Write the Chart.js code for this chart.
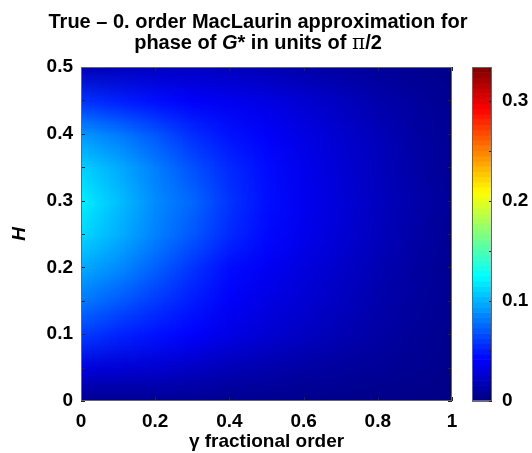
<!DOCTYPE html>
<html>
<head>
<meta charset="utf-8">
<script src="https://cdn.jsdelivr.net/npm/chart.js@4.4.1/dist/chart.umd.min.js"></script>
<style>
  html, body { margin: 0; padding: 0; background: #fff; }
  #wrap { position: relative; width: 532px; height: 453px; }
  #wrap canvas { position: absolute; left: 0; top: 0; }
  #title {
    position: absolute; left: 0; top: 11px; width: 516px;
    text-align: center; font: bold 20px "Liberation Sans", Arial, sans-serif;
    line-height: 21px; color: #000;
  }
  .sym { font-family: "DejaVu Serif", serif; font-weight: normal; }
</style>
</head>
<body>
<div id="wrap">
  <canvas id="heat" width="532" height="453"></canvas>
  <canvas id="cbar" width="532" height="453"></canvas>
  <div id="title">True – 0. order MacLaurin approximation for<br>phase of <i>G</i>* in units of <span class="sym">π</span>/2</div>
</div>
<script>
// grid of the map: gamma across, H up
const gammaVals = [0, 0.1, 0.2, 0.3, 0.4, 0.5, 0.6, 0.7, 0.8, 0.9, 1];
const hVals = [0, 0.05, 0.1, 0.15, 0.2, 0.25, 0.3, 0.35, 0.4, 0.45, 0.5];
// phase difference, one row per H (bottom row first)
const phaseErr = [
  [0.004, 0.005, 0.006, 0.006, 0.005, 0.005, 0.004, 0.004, 0.003, 0.003, 0.002],
  [0.030, 0.028, 0.026, 0.022, 0.018, 0.015, 0.012, 0.010, 0.008, 0.006, 0.004],
  [0.061, 0.053, 0.047, 0.041, 0.033, 0.027, 0.022, 0.017, 0.012, 0.008, 0.005],
  [0.081, 0.071, 0.060, 0.050, 0.040, 0.033, 0.027, 0.021, 0.015, 0.010, 0.006],
  [0.097, 0.087, 0.073, 0.058, 0.045, 0.038, 0.031, 0.024, 0.017, 0.011, 0.006],
  [0.112, 0.099, 0.084, 0.070, 0.055, 0.044, 0.036, 0.028, 0.020, 0.013, 0.007],
  [0.120, 0.104, 0.087, 0.075, 0.058, 0.046, 0.037, 0.029, 0.021, 0.014, 0.008],
  [0.110, 0.098, 0.083, 0.068, 0.055, 0.045, 0.036, 0.028, 0.020, 0.013, 0.007],
  [0.091, 0.082, 0.070, 0.056, 0.047, 0.040, 0.033, 0.026, 0.019, 0.012, 0.007],
  [0.058, 0.052, 0.046, 0.040, 0.037, 0.033, 0.027, 0.021, 0.015, 0.010, 0.006],
  [0.017, 0.020, 0.022, 0.022, 0.020, 0.017, 0.014, 0.011, 0.008, 0.006, 0.004]
];
const xTicks = [0, 0.2, 0.4, 0.6, 0.8, 1];
const yTicks = [0, 0.05, 0.1, 0.15, 0.2, 0.25, 0.3, 0.35, 0.4, 0.45, 0.5];
const yLabels = [0, 0.1, 0.2, 0.3, 0.4, 0.5];
const cbTicks = [0, 0.05, 0.1, 0.15, 0.2, 0.25, 0.3];
const cbLabels = [0, 0.1, 0.2, 0.3];
const cMin = 0, cMax = 0.334;

const FONT = '"Liberation Sans", Arial, sans-serif';
const tickFont = { family: FONT, size: 19, weight: 'bold' };

function clamp(v) { return Math.max(0, Math.min(1, v)); }
function jet(t) {
  t = clamp(t);
  const r = clamp(Math.min(4 * t - 1.5, -4 * t + 4.5));
  const g = clamp(Math.min(4 * t - 0.5, -4 * t + 3.5));
  const b = clamp(Math.min(4 * t + 0.5, -4 * t + 2.5));
  return [Math.round(r * 255), Math.round(g * 255), Math.round(b * 255)];
}
function fmt(v) { return String(+v.toFixed(2)); }
function isIn(arr, v) { return arr.some(t => Math.abs(t - v) < 1e-9); }

// heat image drawn into the plot area through the scales
const heatPlugin = {
  id: 'heat',
  beforeDatasetsDraw(chart) {
    const { ctx, chartArea: a, scales: { x, y } } = chart;
    const nx = gammaVals.length, ny = hVals.length;
    const img = document.createElement('canvas');
    img.width = nx; img.height = ny;
    const ic = img.getContext('2d');
    const id = ic.createImageData(nx, ny);
    for (let j = 0; j < ny; j++) {
      const row = phaseErr[ny - 1 - j];
      for (let i = 0; i < nx; i++) {
        const c = jet((row[i] - cMin) / (cMax - cMin));
        const k = (j * nx + i) * 4;
        id.data[k] = c[0]; id.data[k + 1] = c[1]; id.data[k + 2] = c[2]; id.data[k + 3] = 255;
      }
    }
    ic.putImageData(id, 0, 0);
    const dx = (gammaVals[1] - gammaVals[0]) / 2, dy = (hVals[1] - hVals[0]) / 2;
    const x0 = x.getPixelForValue(gammaVals[0] - dx), x1 = x.getPixelForValue(gammaVals[nx - 1] + dx);
    const y0 = y.getPixelForValue(hVals[ny - 1] + dy), y1 = y.getPixelForValue(hVals[0] - dy);
    ctx.save();
    ctx.beginPath(); ctx.rect(a.left, a.top, a.right - a.left, a.bottom - a.top); ctx.clip();
    ctx.imageSmoothingEnabled = true;
    ctx.imageSmoothingQuality = 'low';
    ctx.drawImage(img, x0, y0, x1 - x0, y1 - y0);
    ctx.restore();
  },
  afterDraw(chart) {
    const { ctx, chartArea: a, scales: { x, y } } = chart;
    ctx.save();
    ctx.strokeStyle = '#262626'; ctx.lineWidth = 1;
    ctx.beginPath();
    xTicks.forEach(v => {
      const px = Math.round(x.getPixelForValue(v)) + 0.5;
      ctx.moveTo(px, a.bottom); ctx.lineTo(px, a.bottom - 4);
      ctx.moveTo(px, a.top); ctx.lineTo(px, a.top + 4);
    });
    yTicks.forEach(v => {
      const py = Math.round(y.getPixelForValue(v)) + 0.5;
      ctx.moveTo(a.left, py); ctx.lineTo(a.left + 4, py);
      ctx.moveTo(a.right, py); ctx.lineTo(a.right - 4, py);
    });
    ctx.stroke();
    ctx.strokeStyle = '#666';
    ctx.strokeRect(Math.round(a.left) + 0.5, Math.round(a.top) + 0.5, Math.round(a.right - a.left) - 1, Math.round(a.bottom - a.top) - 1);
    ctx.restore();
  }
};

new Chart(document.getElementById('heat'), {
  type: 'scatter',
  data: { datasets: [] },
  options: {
    responsive: false, animation: false, events: [],
    layout: { padding: { left: 0, top: 67, right: 80, bottom: 0 } },
    plugins: { legend: { display: false }, tooltip: { enabled: false } },
    scales: {
      x: {
        type: 'linear', min: 0, max: 1,
        afterBuildTicks: s => { s.ticks = xTicks.map(v => ({ value: v })); },
        afterFit: s => { s.height = 52; },
        grid: { display: false, drawTicks: false }, border: { display: false },
        ticks: { font: tickFont, color: '#000', padding: 9, maxRotation: 0, autoSkip: false, callback: v => fmt(v) },
        title: { display: true, text: 'γ fractional order', color: '#000', font: tickFont, padding: { top: 0, bottom: 0 } }
      },
      y: {
        type: 'linear', min: 0, max: 0.5,
        afterBuildTicks: s => { s.ticks = yTicks.map(v => ({ value: v })); },
        afterFit: s => { s.width = 81; },
        grid: { display: false, drawTicks: false }, border: { display: false },
        ticks: { font: tickFont, color: '#000', padding: 8, autoSkip: false, callback: v => isIn(yLabels, v) ? fmt(v) : '' },
        title: { display: true, text: 'H', color: '#000', font: { family: FONT, size: 19, weight: 'bold', style: 'italic' }, padding: { top: 8, bottom: 0 } }
      }
    }
  },
  plugins: [heatPlugin]
});

// colour bar
const cbarPlugin = {
  id: 'cbarFill',
  beforeDatasetsDraw(chart) {
    const { ctx, chartArea: a, scales: { y } } = chart;
    const n = 64;
    ctx.save();
    for (let k = 0; k < n; k++) {
      const v0 = cMin + (cMax - cMin) * k / n, v1 = cMin + (cMax - cMin) * (k + 1) / n;
      const c = jet((k + 0.5) / n);
      const p0 = y.getPixelForValue(v0), p1 = y.getPixelForValue(v1);
      ctx.fillStyle = `rgb(${c[0]},${c[1]},${c[2]})`;
      ctx.fillRect(a.left, p1, a.right - a.left, p0 - p1 + 0.6);
    }
    ctx.restore();
  },
  afterDraw(chart) {
    const { ctx, chartArea: a, scales: { y } } = chart;
    ctx.save();
    ctx.strokeStyle = '#262626'; ctx.lineWidth = 1;
    ctx.beginPath();
    cbTicks.forEach(v => {
      const py = Math.round(y.getPixelForValue(v)) + 0.5;
      ctx.moveTo(a.right, py); ctx.lineTo(a.right - 3, py);
    });
    ctx.stroke();
    ctx.strokeStyle = '#666';
    ctx.strokeRect(Math.round(a.left) + 0.5, Math.round(a.top) + 0.5, Math.round(a.right - a.left) - 1, Math.round(a.bottom - a.top) - 1);
    ctx.restore();
  }
};

new Chart(document.getElementById('cbar'), {
  type: 'scatter',
  data: { datasets: [] },
  options: {
    responsive: false, animation: false, events: [],
    layout: { padding: { left: 472, top: 67, right: 0, bottom: 52 } },
    plugins: { legend: { display: false }, tooltip: { enabled: false } },
    scales: {
      x: { type: 'linear', min: 0, max: 1, display: false },
      y: {
        type: 'linear', position: 'right', min: cMin, max: cMax,
        afterBuildTicks: s => { s.ticks = cbTicks.map(v => ({ value: v })); },
        afterFit: s => { s.width = 40; },
        grid: { display: false, drawTicks: false }, border: { display: false },
        ticks: { font: tickFont, color: '#000', padding: 10, autoSkip: false, callback: v => isIn(cbLabels, v) ? fmt(v) : '' }
      }
    }
  },
  plugins: [cbarPlugin]
});
</script>
</body>
</html>
